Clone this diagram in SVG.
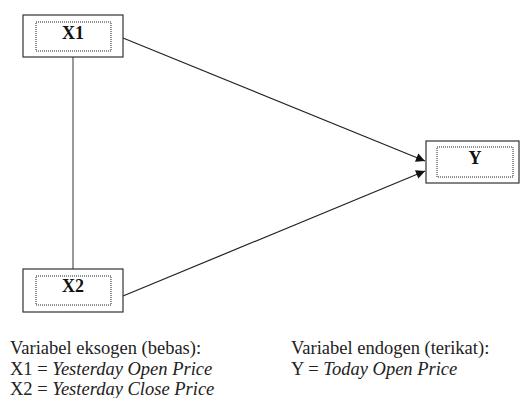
<svg xmlns="http://www.w3.org/2000/svg" width="520" height="398" viewBox="0 0 520 398">
<defs>
<style>
.outer{fill:#fff;stroke:#333;stroke-width:1.2}
.inner{fill:none;stroke:#222;stroke-width:1;stroke-dasharray:1 1}
.lbl{font-family:"Liberation Serif",serif;font-size:18px;font-weight:bold;fill:#111;text-anchor:middle}
.edge{stroke:#222;stroke-width:1.2;fill:none}
.txt{font-family:"Liberation Serif",serif;font-size:18.5px;fill:#222}
</style>
<marker id="ah" viewBox="0 0 10 10" refX="10" refY="5" markerWidth="11" markerHeight="9" markerUnits="userSpaceOnUse" orient="auto">
<path d="M0,0 L10,5 L0,10 z" fill="#111"/>
</marker>
</defs>
<rect width="520" height="398" fill="#fff"/>
<g id="connectors">
<line class="edge" x1="73" y1="57" x2="73" y2="269" style="stroke:#555"/>
<line class="edge" x1="123" y1="38" x2="425" y2="161" marker-end="url(#ah)"/>
<line class="edge" x1="123" y1="296" x2="425" y2="171" marker-end="url(#ah)"/>
</g>
<g id="X1">
<rect class="outer" x="23" y="15" width="100" height="42"/>
<rect class="inner" x="36" y="22" width="75" height="29"/>
<text class="lbl" x="73" y="39">X1</text>
</g>
<g id="X2">
<rect class="outer" x="23" y="269" width="100" height="43"/>
<rect class="inner" x="36" y="276" width="75" height="29"/>
<text class="lbl" x="73" y="292">X2</text>
</g>
<g id="Y">
<rect class="outer" x="426" y="141" width="93" height="42"/>
<rect class="inner" x="437" y="147" width="76" height="30"/>
<text class="lbl" x="475" y="164">Y</text>
</g>
<g id="legend">
<text class="txt" x="10" y="354">Variabel eksogen (bebas):</text>
<text class="txt" x="10" y="375">X1 = <tspan font-style="italic">Yesterday Open Price</tspan></text>
<text class="txt" x="10" y="395">X2 = <tspan font-style="italic">Yesterday Close Price</tspan></text>
<text class="txt" x="291" y="354">Variabel endogen (terikat):</text>
<text class="txt" x="291" y="375">Y = <tspan font-style="italic">Today Open Price</tspan></text>
</g>
</svg>
